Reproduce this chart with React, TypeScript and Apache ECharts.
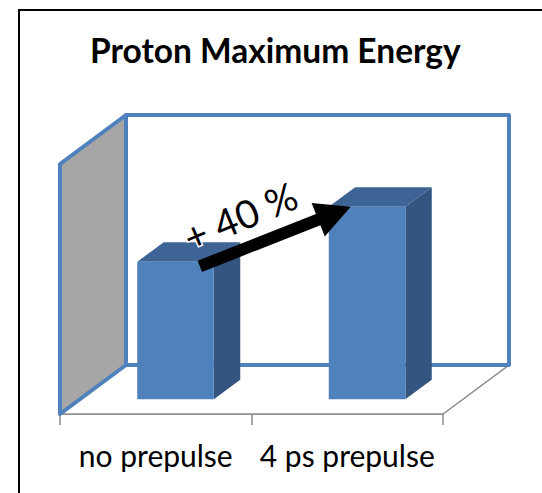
import { useEffect, useRef } from "react";
import * as echarts from "echarts";

// Proton cut-off energy, arbitrary units; the 4 ps prepulse shot is 40 % higher
const categories = ["no prepulse", "4 ps prepulse"];
const energies = [5.5, 7.7];
const gainLabel = "+ 40 %";
const valueMax = 10;

// Oblique projection used for the 3-D look: screen offset of the full floor depth
const DEPTH: [number, number] = [66, -49];
const BAR_FRONT = 0.3; // bar front face, fraction of the floor depth
const BAR_DEPTH = 0.4; // bar thickness, fraction of the floor depth
const BAR_WIDTH = 0.4; // bar width, fraction of the category band

const FONT = "Lato, 'Open Sans', sans-serif";

function barFront(api: any, idx: number, value: number) {
  const base = api.coord([idx, 0]);
  const top = api.coord([idx, value]);
  const band = api.size([1, 0])[0];
  const dx = DEPTH[0] * BAR_FRONT;
  const dy = DEPTH[1] * BAR_FRONT;
  const half = (band * BAR_WIDTH) / 2;
  return {
    x0: base[0] - half + dx,
    x1: base[0] + half + dx,
    yb: base[1] + dy,
    yt: top[1] + dy,
  };
}

function renderWalls(_params: any, api: any) {
  const c0 = api.coord([0, 0]);
  const band = api.size([1, 0])[0];
  const xl = c0[0] - band / 2;
  const xr = xl + band * categories.length;
  const yb = c0[1];
  const yt = api.coord([0, valueMax])[1];
  const [dx, dy] = DEPTH;
  return {
    type: "group",
    children: [
      {
        type: "polygon",
        shape: { points: [[xl, yb], [xr, yb], [xr + dx, yb + dy], [xl + dx, yb + dy]] },
        style: { fill: "#ffffff", stroke: "#8c8c8c", lineWidth: 1.5 },
      },
      {
        type: "rect",
        shape: { x: xl + dx, y: yt + dy, width: xr - xl, height: yb - yt },
        style: { fill: "#ffffff", stroke: "#4f81bd", lineWidth: 4, lineJoin: "round" },
      },
      {
        type: "polygon",
        shape: { points: [[xl, yt], [xl + dx, yt + dy], [xl + dx, yb + dy], [xl, yb]] },
        style: { fill: "#a6a6a6", stroke: "#4f81bd", lineWidth: 4, lineJoin: "round" },
      },
    ],
  };
}

function renderBar(_params: any, api: any) {
  const f = barFront(api, api.value(0), api.value(1));
  const dx = DEPTH[0] * BAR_DEPTH;
  const dy = DEPTH[1] * BAR_DEPTH;
  return {
    type: "group",
    children: [
      {
        type: "polygon",
        shape: { points: [[f.x0, f.yt], [f.x1, f.yt], [f.x1 + dx, f.yt + dy], [f.x0 + dx, f.yt + dy]] },
        style: { fill: "#3d6494" },
      },
      {
        type: "polygon",
        shape: { points: [[f.x1, f.yt], [f.x1 + dx, f.yt + dy], [f.x1 + dx, f.yb + dy], [f.x1, f.yb]] },
        style: { fill: "#33557f" },
      },
      {
        type: "rect",
        shape: { x: f.x0, y: f.yt, width: f.x1 - f.x0, height: f.yb - f.yt },
        style: { fill: "#4f81bd" },
      },
    ],
  };
}

function renderArrow(_params: any, api: any) {
  const a = barFront(api, api.value(0), api.value(1));
  const b = barFront(api, api.value(2), api.value(3));
  const tail = [a.x1 - 14, a.yt + 4.5];
  const tip = [b.x0 + 22, b.yt];
  const vx = tip[0] - tail[0];
  const vy = tip[1] - tail[1];
  const len = Math.hypot(vx, vy);
  const u = [vx / len, vy / len];
  const n = [u[1], -u[0]];
  const w = 6;
  const headLen = 35;
  const headHalf = 18;
  const base = [tip[0] - headLen * u[0], tip[1] - headLen * u[1]];
  const off = (p: number[], s: number) => [p[0] + s * n[0], p[1] + s * n[1]];
  const textPos = [tail[0] + 56 * u[0] + 32 * n[0], tail[1] + 56 * u[1] + 32 * n[1]];
  return {
    type: "group",
    children: [
      {
        type: "polygon",
        shape: {
          points: [
            off(tail, w),
            off(base, w),
            off(base, headHalf),
            tip,
            off(base, -headHalf),
            off(base, -w),
            off(tail, -w),
          ],
        },
        style: { fill: "#000000" },
      },
      {
        type: "text",
        x: textPos[0],
        y: textPos[1],
        rotation: Math.atan2(-u[1], u[0]) + 0.02,
        style: {
          text: gainLabel,
          fontFamily: FONT,
          fontSize: 39,
          fill: "#000000",
          stroke: "#ffffff",
          lineWidth: 3,
          strokeFirst: true,
          align: "center",
          verticalAlign: "middle",
        },
      },
    ],
  };
}

export default function App() {
  const ref = useRef<HTMLDivElement>(null);

  useEffect(() => {
    if (!ref.current) return;
    const chart = echarts.init(ref.current, undefined, { renderer: "svg" });
    chart.setOption({
      animation: false,
      backgroundColor: "#ffffff",
      title: {
        text: "Proton Maximum Energy",
        left: 90,
        top: 33,
        padding: 0,
        textStyle: { fontFamily: FONT, fontWeight: "bold", fontSize: 33.5, color: "#000000" },
      },
      grid: { left: 60, top: 164, width: 383, height: 250, containLabel: false },
      xAxis: {
        type: "category",
        data: categories,
        boundaryGap: true,
        axisLine: { show: true, lineStyle: { color: "#8c8c8c", width: 1.5 } },
        axisTick: { show: true, length: 11, interval: 0, lineStyle: { color: "#8c8c8c", width: 1.5 } },
        axisLabel: { interval: 0, margin: 26, fontFamily: FONT, fontSize: 30, color: "#000000" },
        splitLine: { show: false },
      },
      yAxis: { type: "value", min: 0, max: valueMax, show: false },
      graphic: [
        { type: "line", shape: { x1: 19, y1: 10, x2: 542, y2: 10 }, style: { stroke: "#000000", lineWidth: 2 } },
        { type: "line", shape: { x1: 19, y1: 9, x2: 19, y2: 493 }, style: { stroke: "#000000", lineWidth: 2 } },
      ],
      series: [
        {
          type: "custom",
          z: 1,
          silent: true,
          renderItem: renderWalls,
          data: [[0, valueMax]],
        },
        {
          type: "custom",
          z: 2,
          renderItem: renderBar,
          encode: { x: 0, y: 1 },
          data: energies.map((v, i) => [i, v]),
        },
        {
          type: "custom",
          z: 3,
          silent: true,
          renderItem: renderArrow,
          encode: { x: 0, y: 1 },
          data: [[0, energies[0], 1, energies[1]]],
        },
      ],
    });
    return () => chart.dispose();
  }, []);

  return (
    <div
      ref={ref}
      style={{ position: "fixed", left: 0, top: 0, width: 542, height: 493, background: "#ffffff" }}
    />
  );
}
